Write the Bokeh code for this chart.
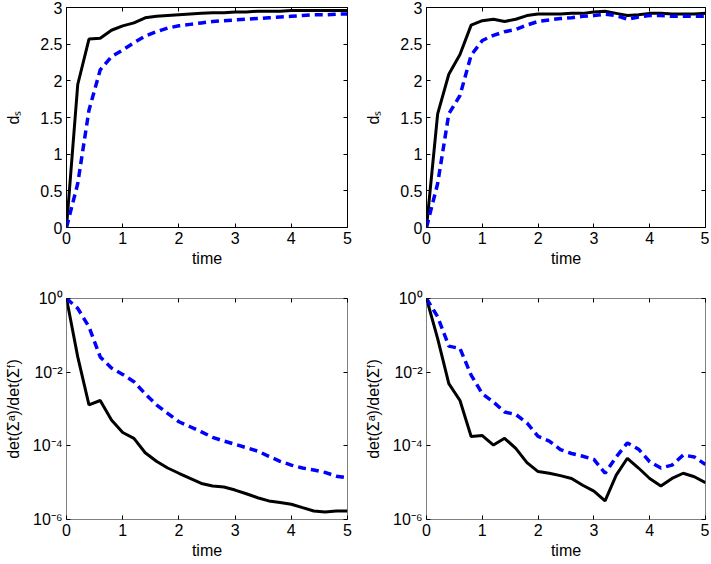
from bokeh.plotting import figure
from bokeh.layouts import gridplot
from bokeh.models import Range1d, FixedTicker, LinearAxis, LogAxis, CustomJSTickFormatter
from bokeh.embed import file_html
from bokeh.resources import INLINE

# time samples
t = [0.0, 0.2, 0.4, 0.6, 0.8, 1.0, 1.2, 1.4, 1.6, 1.8, 2.0, 2.2, 2.4,
     2.6, 2.8, 3.0, 3.2, 3.4, 3.6, 3.8, 4.0, 4.2, 4.4, 4.6, 4.8, 5.0]

# top left, d_s
ds_left_solid = [0.0, 1.95, 2.57, 2.58, 2.69, 2.75, 2.79, 2.86, 2.88, 2.89, 2.90, 2.91, 2.92,
                 2.93, 2.93, 2.94, 2.94, 2.95, 2.95, 2.95, 2.96, 2.96, 2.96, 2.96, 2.96, 2.96]
ds_left_dash = [0.0, 0.6, 1.6, 2.15, 2.33, 2.42, 2.52, 2.61, 2.67, 2.72, 2.75, 2.77, 2.79,
                2.81, 2.82, 2.83, 2.84, 2.85, 2.86, 2.87, 2.88, 2.89, 2.90, 2.90, 2.91, 2.91]
# top right, d_s
ds_right_solid = [0.0, 1.55, 2.09, 2.36, 2.76, 2.82, 2.84, 2.81, 2.84, 2.89, 2.91, 2.91, 2.91,
                  2.92, 2.92, 2.94, 2.95, 2.92, 2.89, 2.90, 2.92, 2.92, 2.91, 2.91, 2.91, 2.92]
ds_right_dash = [0.0, 0.6, 1.55, 1.8, 2.35, 2.55, 2.62, 2.67, 2.70, 2.76, 2.81, 2.83, 2.85,
                 2.86, 2.88, 2.89, 2.91, 2.89, 2.84, 2.87, 2.89, 2.89, 2.88, 2.88, 2.88, 2.88]

# bottom left, det ratio
det_left_solid = [1.0, 2.6e-2, 1.3e-3, 1.7e-3, 5.0e-4, 2.3e-4, 1.6e-4, 6.5e-5, 3.8e-5, 2.5e-5,
                  1.8e-5, 1.3e-5, 9.5e-6, 8.1e-6, 7.6e-6, 6.3e-6, 5.0e-6, 3.9e-6, 3.2e-6,
                  2.9e-6, 2.6e-6, 2.1e-6, 1.7e-6, 1.6e-6, 1.7e-6, 1.7e-6]
det_left_dash = [1.0, 5.4e-1, 1.7e-1, 2.6e-2, 1.3e-2, 8.7e-3, 5.5e-3, 2.6e-3, 1.3e-3, 7.6e-4,
                 4.5e-4, 3.3e-4, 2.4e-4, 1.7e-4, 1.35e-4, 1.1e-4, 8.9e-5, 7.2e-5, 5.2e-5,
                 3.8e-5, 3.0e-5, 2.5e-5, 2.2e-5, 1.9e-5, 1.5e-5, 1.35e-5]
# bottom right, det ratio
det_right_solid = [1.0, 8.1e-2, 4.9e-3, 1.7e-3, 1.8e-4, 1.9e-4, 1.05e-4, 1.6e-4, 8.5e-5, 3.5e-5,
                   2.0e-5, 1.8e-5, 1.55e-5, 1.3e-5, 8.5e-6, 5.9e-6, 3.2e-6, 1.6e-5, 4.6e-5,
                   2.5e-5, 1.3e-5, 8.1e-6, 1.3e-5, 1.8e-5, 1.45e-5, 1.0e-5]
det_right_dash = [1.0, 3.2e-1, 5.1e-2, 4.4e-2, 8.3e-3, 2.6e-3, 1.55e-3, 8.3e-4, 7.1e-4, 4.2e-4,
                  1.8e-4, 1.35e-4, 7.9e-5, 6.2e-5, 5.2e-5, 4.3e-5, 1.8e-5, 5.0e-5, 1.2e-4,
                  8.1e-5, 3.7e-5, 2.5e-5, 3.0e-5, 5.6e-5, 5.0e-5, 3.1e-5]

x_ticks = [0, 1, 2, 3, 4, 5]
ds_ticks = [0, 0.5, 1, 1.5, 2, 2.5, 3]
det_ticks = [1e-6, 1e-4, 1e-2, 1]

FONT = "Liberation Sans"
FS = "16px"

sup_fmt = CustomJSTickFormatter(code="""
const e = Math.round(Math.log10(tick));
const sup = {'-': '\u207b', '0': '\u2070', '1': '\u00b9', '2': '\u00b2', '3': '\u00b3',
             '4': '\u2074', '5': '\u2075', '6': '\u2076', '7': '\u2077', '8': '\u2078', '9': '\u2079'};
return '10' + String(e).split('').map(c => sup[c]).join('');
""")
blank_fmt = CustomJSTickFormatter(code="return '';")


def style_axis(ax, ticks, labelled):
    ax.ticker = FixedTicker(ticks=ticks)
    ax.major_tick_in = 4
    ax.major_tick_out = 0
    ax.minor_tick_line_color = None
    ax.axis_line_color = None
    ax.major_tick_line_color = "black"
    ax.major_label_text_font = FONT
    ax.major_label_text_font_size = FS
    ax.major_label_text_color = "black"
    ax.axis_label_text_font = FONT
    ax.axis_label_text_font_size = FS
    ax.axis_label_text_font_style = "normal"
    ax.axis_label_text_color = "black"
    if labelled:
        ax.major_label_standoff = 4
        ax.axis_label_standoff = 3
    else:
        ax.formatter = blank_fmt
        ax.major_label_standoff = 0


def panel(ys_solid, ys_dash, log, borders, fw, fh):
    left_b, right_b, top_b, bottom_b = borders
    if log:
        p = figure(frame_width=fw, frame_height=fh, y_axis_type="log",
                   x_range=Range1d(0, 5), y_range=Range1d(1e-6, 1),
                   output_backend="svg", toolbar_location=None)
    else:
        p = figure(frame_width=fw, frame_height=fh,
                   x_range=Range1d(0, 5), y_range=Range1d(0, 3),
                   output_backend="svg", toolbar_location=None)
    p.min_border_left = left_b
    p.min_border_right = right_b
    p.min_border_top = top_b
    p.min_border_bottom = bottom_b
    p.xgrid.visible = False
    p.ygrid.visible = False
    p.outline_line_color = "#808080" if log else "black"
    p.outline_line_width = 1
    p.background_fill_color = "white"
    p.border_fill_color = "white"

    yt = det_ticks if log else ds_ticks
    style_axis(p.xaxis[0], x_ticks, True)
    style_axis(p.yaxis[0], yt, True)
    p.xaxis[0].axis_label = "time"
    if log:
        p.yaxis[0].axis_label = "det(\u03a3\u1d43)/det(\u03a3\u1da0)"
        p.yaxis[0].formatter = sup_fmt
        p.yaxis[0].axis_label_standoff = 8
        right = LogAxis()
    else:
        p.yaxis[0].axis_label = "d\u209b"
        p.yaxis[0].axis_label_standoff = 15
        right = LinearAxis()
    top = LinearAxis()
    style_axis(right, yt, False)
    style_axis(top, x_ticks, False)
    p.add_layout(right, "right")
    p.add_layout(top, "above")

    p.line(t, ys_solid, line_color="black", line_width=3)
    p.line(t, ys_dash, line_color="#0000ff", line_width=3.5, line_dash="8 5")
    return p


p1 = panel(ds_left_solid, ds_left_dash, False, (66, 8, 7, 45), 281, 220)
p2 = panel(ds_right_solid, ds_right_dash, False, (71, 4, 7, 45), 279, 220)
p3 = panel(det_left_solid, det_left_dash, True, (66, 8, 26, 40), 281, 221)
p4 = panel(det_right_solid, det_right_dash, True, (71, 4, 26, 40), 279, 221)

grid = gridplot([[p1, p2], [p3, p4]], toolbar_location=None)

open("out.html", "w").write(file_html(grid, INLINE))
